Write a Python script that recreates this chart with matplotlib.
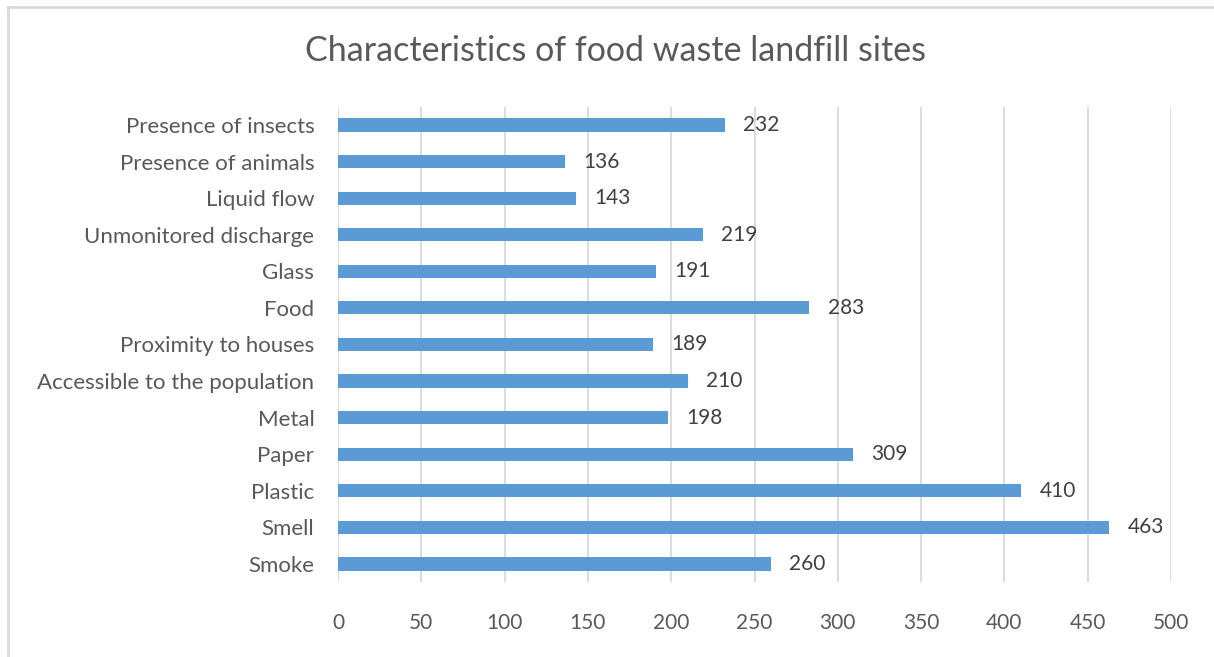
import matplotlib
matplotlib.use("Agg")
import matplotlib.pyplot as plt
from matplotlib.lines import Line2D

categories = ["Smoke", "Smell", "Plastic", "Paper", "Metal",
              "Accessible to the population", "Proximity to houses", "Food",
              "Glass", "Unmonitored discharge", "Liquid flow",
              "Presence of animals", "Presence of insects"]
values = [260, 463, 410, 309, 198, 210, 189, 283, 191, 219, 143, 136, 232]
xticks = [0, 50, 100, 150, 200, 250, 300, 350, 400, 450, 500]

plt.rcParams['font.family'] = ['Lato', 'DejaVu Sans']
TXT = "#595959"

fig = plt.figure(figsize=(12.14, 6.57), dpi=100)
ax = fig.add_axes([0.2784, 0.1137, 0.9646 - 0.2784, 0.8376 - 0.1137])

y = list(range(len(categories)))
ax.barh(y, values, height=0.36, color="#5B9BD5", zorder=3)
for yi, v in zip(y, values):
    ax.text(v + 11, yi, str(v), va="center", ha="left", fontsize=15, color="#404040")

ax.set_xlim(0, 500)
ax.set_ylim(-0.5, len(categories) - 0.5)
ax.set_xticks(xticks)
ax.set_xticklabels([str(t) for t in xticks])
ax.set_yticks(y)
ax.set_yticklabels(categories)
ax.tick_params(axis="both", length=0, colors=TXT)
ax.tick_params(axis="x", pad=22, labelsize=15)
ax.tick_params(axis="y", pad=17, labelsize=16)
ax.grid(axis="x", color="#D9D9D9", linewidth=1.3, zorder=0)
for s in ax.spines.values():
    s.set_visible(False)

fig.text(0.507, 0.922, "Characteristics of food waste landfill sites",
         ha="center", va="center", fontsize=24.5, color=TXT)

# chart border (left and top)
fig.add_artist(Line2D([8/1214, 8/1214], [0, 1 - 7/657], transform=fig.transFigure,
                      color="#D9D9D9", linewidth=2))
fig.add_artist(Line2D([8/1214, 1], [1 - 7/657, 1 - 7/657], transform=fig.transFigure,
                      color="#D9D9D9", linewidth=2))

fig.savefig("out.png", dpi=100, facecolor="white")
